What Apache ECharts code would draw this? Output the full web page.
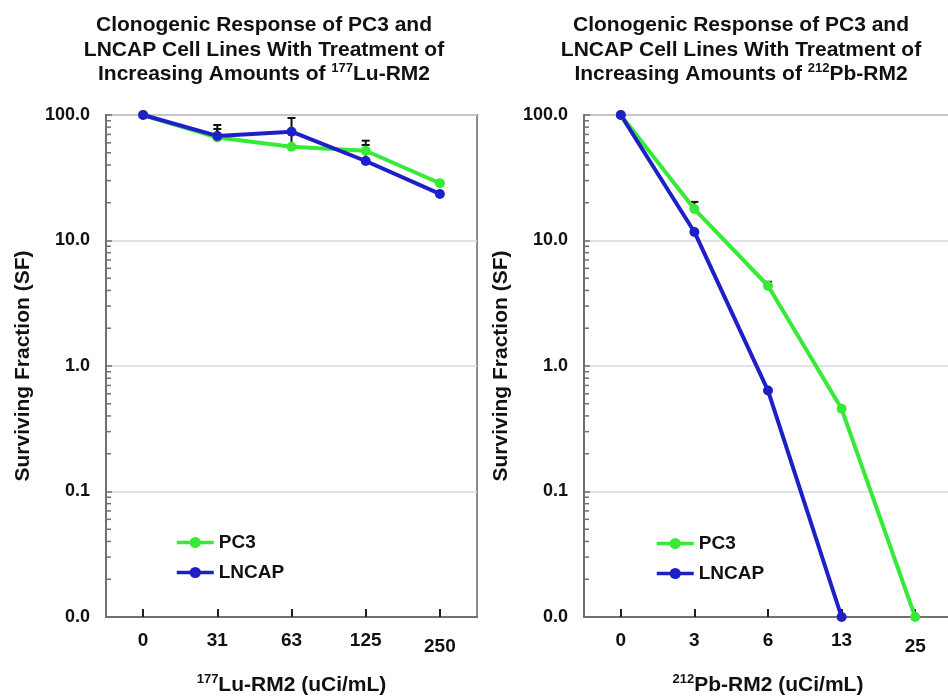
<!DOCTYPE html>
<html><head><meta charset="utf-8">
<script src="https://cdn.jsdelivr.net/npm/echarts@6/dist/echarts.min.js"></script>
<style>html,body{margin:0;padding:0;background:#fff}#c{width:948px;height:698px}</style>
</head><body><div id="c"></div>
<script>
// ---- data ----
const luDoses = ['0', '31', '63', '125', '250'];
const pbDoses = ['0', '3', '6', '13', '25'];
const luPC3 = [100, 66.2, 55.9, 51.9, 28.6];
const luLNCAP = [100, 68.1, 73.6, 43.0, 23.5];
const luPC3Err = [0, 17.0, 38.7, 10.5, 0];
const luLNCAPErr = [0, 9.3, 0, 14.7, 0];
const pbPC3 = [100, 17.8, 4.36, 0.456, 0.01];
const pbLNCAP = [100, 11.7, 0.637, 0.01, null];
const pbPC3Err = [0, 2.5, 0.33, 0, 0];
const pbLNCAPErr = [0, 0, 0, 0, 0];
const minorTickValues = [0.02,0.03,0.04,0.05,0.06,0.07,0.08,0.09,0.2,0.3,0.4,0.5,0.6,0.7,0.8,0.9,2,3,4,5,6,7,8,9,20,30,40,50,60,70,80,90];

const FONT = '"Liberation Sans", Arial, sans-serif';
const GREEN = '#38ea38', BLUE = '#1f1fc8';

function xAxisOpt(idx, cats, sup, rest) {
  return {
    type: 'category', gridIndex: idx, data: cats, boundaryGap: true,
    axisLine: {show: true, lineStyle: {color: '#707070', width: 2}},
    axisTick: {show: true, inside: true, alignWithLabel: true, interval: 0, length: 8, lineStyle: {color: '#222', width: 2}},
    axisLabel: {interval: 0, fontSize: 19, fontWeight: 'bold', color: '#111', fontFamily: FONT, margin: 14,
      formatter: (v, i) => i === cats.length - 1 ? '{low|' + v + '}' : v,
      rich: {low: {fontSize: 19, fontWeight: 'bold', color: '#111', fontFamily: FONT, padding: [6, 0, 0, 0]}}},
    splitLine: {show: false},
    name: '{sup|' + sup + '}' + rest, nameLocation: 'middle', nameGap: 56,
    nameTextStyle: {fontSize: 21, fontWeight: 'bold', color: '#111', fontFamily: FONT, lineHeight: 24,
      rich: {sup: {fontSize: 13, fontWeight: 'bold', color: '#111', fontFamily: FONT, lineHeight: 12, verticalAlign: 'top'}}}
  };
}
function yAxisOpt(idx) {
  return {
    type: 'log', logBase: 10, min: 0.01, max: 100, gridIndex: idx,
    axisLine: {show: true, lineStyle: {color: '#707070', width: 2}},
    axisTick: {show: true, inside: true, length: 6, lineStyle: {color: '#707070', width: 1.5}},
    axisLabel: {formatter: v => Number(v).toFixed(1), fontSize: 18, fontWeight: 'bold', color: '#111', fontFamily: FONT, margin: 16},
    splitLine: {show: true, lineStyle: {color: '#d9d9d9', width: 1.5}},
    name: 'Surviving Fraction (SF)', nameLocation: 'middle', nameGap: 72,
    nameTextStyle: {fontSize: 21, fontWeight: 'bold', color: '#111', fontFamily: FONT}
  };
}
function lineSeries(name, idx, data, color) {
  return {type: 'line', name, xAxisIndex: idx, yAxisIndex: idx, data, color,
    symbol: 'circle', symbolSize: 10, clip: false, z: 3,
    lineStyle: {color, width: 4}, itemStyle: {color}};
}
function errSeries(idx, vals, errs) {
  const d = vals.map((v, i) => [i, v, errs[i]]).filter(r => r[2] > 0);
  return {type: 'custom', xAxisIndex: idx, yAxisIndex: idx, data: d, z: 2, silent: true,
    encode: {x: 0, y: 1},
    renderItem(params, api) {
      const i = api.value(0), v = api.value(1), u = api.value(2);
      const p0 = api.coord([i, v]), p1 = api.coord([i, v + u]);
      const st = {stroke: '#111', lineWidth: 2};
      return {type: 'group', children: [
        {type: 'line', shape: {x1: p0[0], y1: p0[1], x2: p1[0], y2: p1[1]}, style: st},
        {type: 'line', shape: {x1: p1[0] - 4, y1: p1[1], x2: p1[0] + 4, y2: p1[1]}, style: st}
      ]};
    }};
}
function minorSeries(idx) {
  return {type: 'custom', xAxisIndex: idx, yAxisIndex: idx, silent: true, z: 4,
    data: minorTickValues.map(v => [0, v]), encode: {x: 0, y: 1},
    renderItem(params, api) {
      const y = api.coord([0, api.value(1)])[1];
      const x = params.coordSys.x;
      return {type: 'line', shape: {x1: x, y1: y, x2: x + 5, y2: y}, style: {stroke: '#707070', lineWidth: 1.5}};
    }};
}
const titleStyle = {fontSize: 21, fontWeight: 'bold', color: '#111', fontFamily: FONT, lineHeight: 24.5,
  rich: {sup: {fontSize: 13, fontWeight: 'bold', color: '#111', fontFamily: FONT, lineHeight: 12, verticalAlign: 'top'}}};
const legendStyle = {fontSize: 19, fontWeight: 'bold', color: '#111', fontFamily: FONT};

const chart = echarts.init(document.getElementById('c'), null, {renderer: 'canvas'});
chart.setOption({
  backgroundColor: '#fff',
  animation: false,
  title: [
    {text: 'Clonogenic Response of PC3 and\nLNCAP Cell Lines With Treatment of\nIncreasing Amounts of {sup|177}Lu-RM2',
     left: 264, top: 13, padding: 0, textAlign: 'center', textStyle: titleStyle},
    {text: 'Clonogenic Response of PC3 and\nLNCAP Cell Lines With Treatment of\nIncreasing Amounts of {sup|212}Pb-RM2',
     left: 741, top: 13, padding: 0, textAlign: 'center', textStyle: titleStyle}
  ],
  legend: [
    {data: ['PC3', 'LNCAP'], orient: 'vertical', left: 175, top: 533, padding: 0, itemWidth: 37, itemHeight: 14, itemGap: 11,
     lineStyle: {width: 3.5}, textStyle: legendStyle},
    {data: ['PC3', 'LNCAP'], orient: 'vertical', left: 655, top: 534, padding: 0, itemWidth: 37, itemHeight: 14, itemGap: 11,
     lineStyle: {width: 3.5}, textStyle: legendStyle}
  ],
  grid: [
    {left: 106, top: 115, width: 371, height: 502, show: true, borderColor: '#8c8c8c', borderWidth: 2, backgroundColor: 'transparent', outerBoundsMode: 'none', containLabel: false},
    {left: 584, top: 115, width: 368, height: 502, show: true, borderColor: '#8c8c8c', borderWidth: 2, backgroundColor: 'transparent', outerBoundsMode: 'none', containLabel: false}
  ],
  xAxis: [xAxisOpt(0, luDoses, '177', 'Lu-RM2 (uCi/mL)'), xAxisOpt(1, pbDoses, '212', 'Pb-RM2 (uCi/mL)')],
  yAxis: [yAxisOpt(0), yAxisOpt(1)],
  series: [
    minorSeries(0), minorSeries(1),
    errSeries(0, luPC3, luPC3Err), errSeries(0, luLNCAP, luLNCAPErr),
    errSeries(1, pbPC3, pbPC3Err), errSeries(1, pbLNCAP, pbLNCAPErr),
    lineSeries('PC3', 0, luPC3, GREEN), lineSeries('LNCAP', 0, luLNCAP, BLUE),
    lineSeries('PC3', 1, pbPC3, GREEN), lineSeries('LNCAP', 1, pbLNCAP, BLUE)
  ]
});
</script></body></html>
